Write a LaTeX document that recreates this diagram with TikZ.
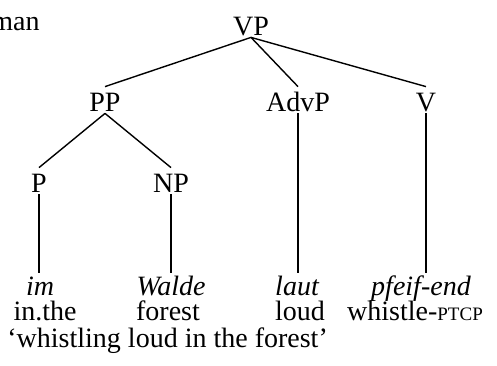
\documentclass[tikz,border=0pt]{standalone}
\usepackage{fontspec}
\setmainfont{Liberation Serif}
\usepackage{tikz}

% body size of the tree, and small capitals by hand (the serif font has none)
\newcommand{\arbrefont}{\fontsize{14}{16}\selectfont}
\newcommand{\petitcap}[1]{{\fontsize{9.5}{10}\selectfont #1}}

\begin{document}
\begin{tikzpicture}[x=0.5pt,y=-0.5pt]

\tikzset{
    cat/.style = {
    inner sep=0pt,
    text height=12pt,
    text depth=1pt,
    anchor=base,
    font=\arbrefont
    }
}

\tikzstyle{mot}=[inner sep=0pt, text height=11pt, text depth=0pt, anchor=base, font=\arbrefont\itshape]
\tikzstyle{glose}=[inner sep=0pt, anchor=base, font=\arbrefont]
\tikzstyle{branche}=[line width=0.7pt]

\useasboundingbox (0,0) rectangle (497,365);

\node (langue) [glose, anchor=base east] at (40,30) {man};

% categories
\node (VP) [cat] at (251,35) {VP};
\node (PP) [cat] at (105,111) {PP};
\node (AdvP) [cat] at (298,111) {AdvP};
\node (V) [cat] at (426,111) {V};
\node (P) [cat] at (39,192) {P};
\node (NP) [cat] at (171,192) {NP};

% words and glosses
\node (w-im) [mot] at (40,295) {im};
\node (w-Walde) [mot] at (171,295) {Walde};
\node (w-laut) [mot] at (297,295) {laut};
\node (w-pfeif) [mot] at (421,295) {pfeif-end};

\node (g-im) [glose] at (45,320) {in.the};
\node (g-Walde) [glose] at (168,320) {forest};
\node (g-laut) [glose] at (300,320) {loud};
\node (g-pfeif) [glose] at (415,320) {whistle-\petitcap{PTCP}};

\node (trad) [glose, anchor=base west] at (7,347) {`whistling loud in the forest'};

\draw[branche] (VP.south) -- (PP.north);
\draw[branche] (VP.south) -- (AdvP.north);
\draw[branche] (VP.south) -- (V.north);
\draw[branche] (PP.south) -- (P.north);
\draw[branche] (PP.south) -- (NP.north);

\draw[branche] (P.south) -- (P.south |- w-im.north);
\draw[branche] (NP.south) -- (NP.south |- w-Walde.north);
\draw[branche] (AdvP.south) -- (AdvP.south |- w-laut.north);
\draw[branche] (V.south) -- (V.south |- w-pfeif.north);

\end{tikzpicture}
\end{document}
